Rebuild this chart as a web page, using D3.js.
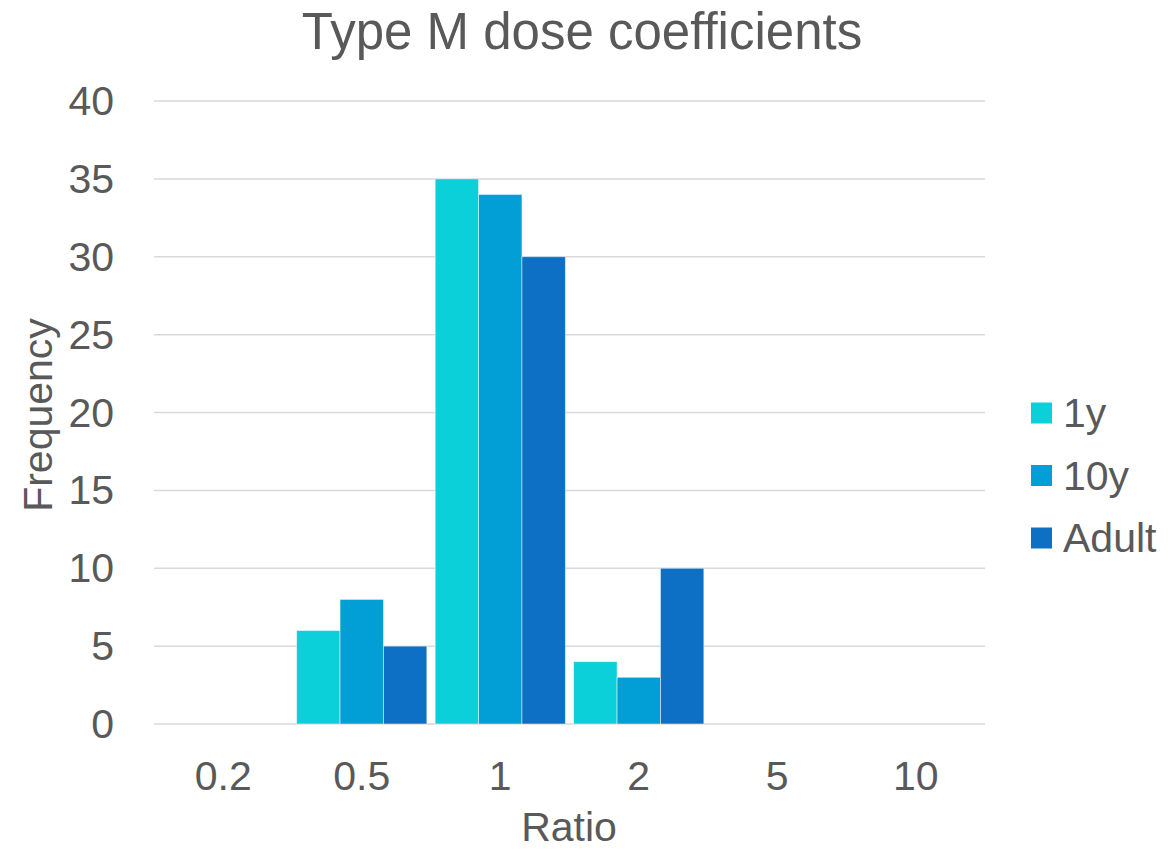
<!DOCTYPE html>
<html>
<head>
<meta charset="utf-8">
<script src="https://cdn.jsdelivr.net/npm/d3@7"></script>
<style>
  body { margin: 0; background: #fff; }
  text { font-family: "Liberation Sans", Arial, sans-serif; fill: #595959; }
</style>
</head>
<body>
<div id="chart"></div>
<script>
// dados do gráfico
const categories = ['0.2', '0.5', '1', '2', '5', '10'];
const seriesNames = ['1y', '10y', 'Adult'];
const values1y = [0, 6, 35, 4, 0, 0];
const values10y = [0, 8, 34, 3, 0, 0];
const valuesAdult = [0, 5, 30, 10, 0, 0];
const yTicks = [0, 5, 10, 15, 20, 25, 30, 35, 40];
const colors = ['#0bcfd9', '#029ed6', '#0e70c5'];

const width = 1168, height = 850;
const plot = { left: 154, right: 985, top: 101, bottom: 724 };
const fs = 41;

const svg = d3.select('#chart').append('svg')
  .attr('width', width)
  .attr('height', height);

svg.append('text')
  .attr('x', 582).attr('y', 49)
  .attr('text-anchor', 'middle')
  .style('font-size', '51px')
  .text('Type M dose coefficients');

const x = d3.scaleBand().domain(categories).range([plot.left, plot.right]).paddingInner(0.06).paddingOuter(0.03);
const xSub = d3.scaleBand().domain(seriesNames).range([0, x.bandwidth()]);
const y = d3.scaleLinear().domain([0, 40]).range([plot.bottom, plot.top]);

// linhas de grade
svg.append('g').selectAll('line').data(yTicks).enter().append('line')
  .attr('x1', plot.left).attr('x2', plot.right)
  .attr('y1', d => y(d)).attr('y2', d => y(d))
  .attr('stroke', '#d9d9d9').attr('stroke-width', 1.5);

// eixo y
const yAxis = svg.append('g').attr('transform', `translate(${plot.left},0)`)
  .call(d3.axisLeft(y).tickValues(yTicks).tickSize(0).tickPadding(40));
yAxis.select('.domain').remove();
yAxis.selectAll('text').attr('dy', '0.33em').style('font-size', fs + 'px');

// eixo x
const xAxis = svg.append('g').attr('transform', `translate(0,${plot.bottom})`)
  .call(d3.axisBottom(x).tickSize(0).tickPadding(0));
xAxis.select('.domain').remove();
xAxis.selectAll('text').attr('y', 66).attr('dy', 0).style('font-size', fs + 'px');

svg.append('text').attr('x', 569).attr('y', 841)
  .attr('text-anchor', 'middle').style('font-size', fs + 'px').text('Ratio');
svg.append('text').attr('transform', 'rotate(-90)')
  .attr('x', -415).attr('y', 52)
  .attr('text-anchor', 'middle').style('font-size', fs + 'px').text('Frequency');

// barras
const allSeries = [values1y, values10y, valuesAdult];
const rows = [];
allSeries.forEach((vals, si) => {
  vals.forEach((v, ci) => rows.push({ cat: categories[ci], name: seriesNames[si], value: v, color: colors[si] }));
});
svg.append('g').selectAll('rect').data(rows.filter(d => d.value > 0)).enter().append('rect')
  .attr('x', d => x(d.cat) + xSub(d.name))
  .attr('y', d => y(d.value))
  .attr('width', xSub.bandwidth())
  .attr('height', d => y(0) - y(d.value))
  .attr('fill', d => d.color)
  .attr('stroke', '#ffffff').attr('stroke-opacity', 0.6).attr('stroke-width', 0.8);

// legenda
const legend = svg.append('g').selectAll('g').data(seriesNames).enter().append('g')
  .attr('transform', (d, i) => `translate(1031,${413 + i * 62.5})`);
legend.append('rect').attr('x', 0).attr('y', -10.5).attr('width', 21).attr('height', 21)
  .attr('fill', (d, i) => colors[i]);
legend.append('text').attr('x', 32).attr('dy', '0.35em')
  .style('font-size', fs + 'px').text(d => d);
</script>
</body>
</html>
